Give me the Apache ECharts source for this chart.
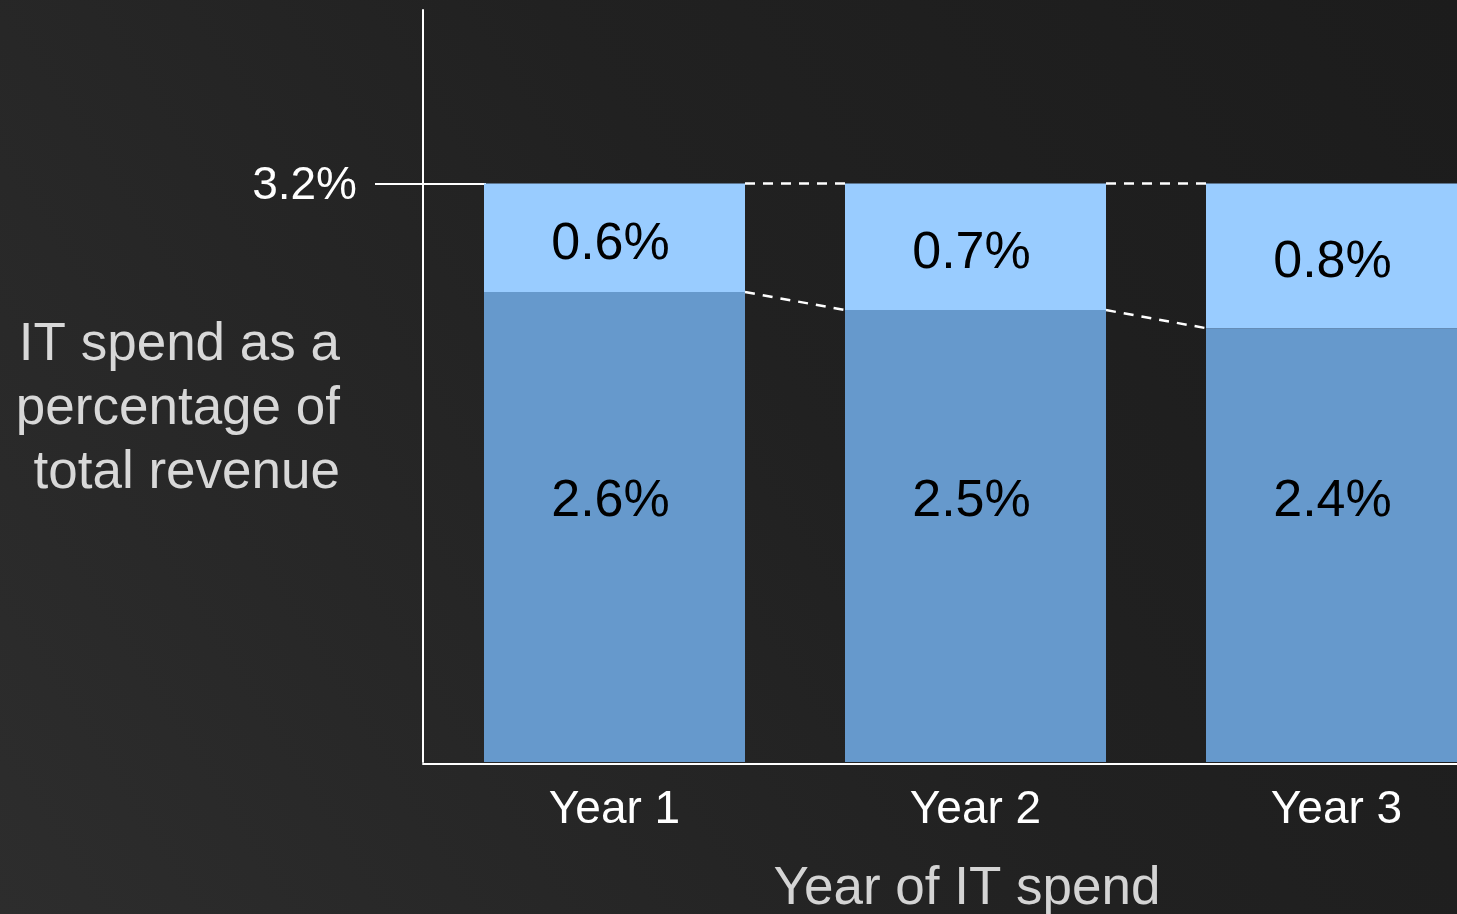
<!DOCTYPE html>
<html>
<head>
<meta charset="utf-8">
<style>
  html, body { margin: 0; padding: 0; background: #222; }
  #chart { width: 1457px; height: 914px; }
</style>
<script src="https://cdn.jsdelivr.net/npm/echarts@6/dist/echarts.min.js"></script>
</head>
<body>
<div id="chart"></div>
<script>
// ---- data ----
const categories = ['Year 1', 'Year 2', 'Year 3'];
const baseShare = [2.6, 2.5, 2.4];    // lower (dark) segment, % of revenue
const extraShare = [0.6, 0.7, 0.8];   // upper (light) segment, % of revenue
const yTickValues = [3.2];
const yAxisName = 'IT spend as a\npercentage of\ntotal revenue';
const xAxisName = 'Year of IT spend';

// ---- style constants ----
const FONT = 'Liberation Sans, Arial, Helvetica, sans-serif';
const BAR_W = 261;
const Y_MAX = 4.16;

const connectorData = categories.slice(0, -1).map((_, i) => [
  i,
  baseShare[i] + extraShare[i], baseShare[i],
  baseShare[i + 1] + extraShare[i + 1], baseShare[i + 1]
]);

const pct = p => Number(Array.isArray(p.value) ? p.value[1] : p.value).toFixed(1) + '%';

const chart = echarts.init(document.getElementById('chart'), null, { renderer: 'canvas' });
chart.setOption({
  animation: false,
  backgroundColor: {
    type: 'linear', x: 1, y: 0, x2: 0, y2: 1,
    colorStops: [
      { offset: 0, color: '#1c1c1c' },
      { offset: 0.45, color: '#212121' },
      { offset: 1, color: '#2d2d2d' }
    ]
  },
  grid: [
    // plotting grid for the bars (extends past the right edge)
    { left: 434, right: -60, top: 10, bottom: 152, containLabel: false, outerBoundsMode: 'none' },
    // frame grid carrying the visible axis lines
    { left: 423, right: 0, top: 10, bottom: 152, containLabel: false, outerBoundsMode: 'none' }
  ],
  xAxis: [{
    gridIndex: 0, type: 'category', data: categories, boundaryGap: true,
    axisLine: { show: false }, axisTick: { show: false }, splitLine: { show: false },
    axisLabel: { color: '#ffffff', fontFamily: FONT, fontSize: 46, margin: 25 },
    name: xAxisName, nameLocation: 'middle', nameGap: 101, nameMoveOverlap: false,
    nameTextStyle: { color: '#d4d4d4', fontFamily: FONT, fontSize: 53, padding: [0, 17, 0, 0] }
  }, {
    gridIndex: 1, type: 'value', min: 0, max: 1, offset: 2,
    axisLine: { show: true, onZero: false, lineStyle: { color: '#ffffff', width: 2 } },
    axisTick: { show: false }, axisLabel: { show: false }, splitLine: { show: false }
  }],
  yAxis: [{
    gridIndex: 0, type: 'value', min: 0, max: Y_MAX, show: false
  }, {
    gridIndex: 1, type: 'value', min: 0, max: Y_MAX,
    axisLine: { show: true, onZero: false, lineStyle: { color: '#ffffff', width: 2 } },
    axisTick: { show: true, customValues: yTickValues, inside: false, length: 48, lineStyle: { color: '#ffffff', width: 2 } },
    splitLine: { show: false },
    axisLabel: {
      customValues: yTickValues,
      formatter: v => '{v|' + v.toFixed(1) + '%}',
      color: '#ffffff', fontFamily: FONT, fontSize: 46, margin: 66,
      rich: { v: { color: '#ffffff', fontFamily: FONT, fontSize: 46, padding: [6, 0, 0, 0] } }
    },
    name: '{pad|}\n' + yAxisName, nameLocation: 'middle', nameRotate: 0, nameGap: 83, nameMoveOverlap: false,
    nameTextStyle: {
      color: '#d8d8d8', fontFamily: FONT, fontSize: 53, lineHeight: 64, align: 'right',
      rich: { pad: { lineHeight: 46, fontSize: 10 } }
    }
  }, {
    gridIndex: 1, type: 'value', min: 0, max: Y_MAX, position: 'left',
    axisLine: { show: false, onZero: false },
    axisTick: { show: true, customValues: yTickValues, inside: true, length: 63, lineStyle: { color: '#ffffff', width: 2 } },
    axisLabel: { show: false },
    splitLine: { show: false }
  }],
  series: [{
    type: 'bar', xAxisIndex: 0, yAxisIndex: 0, stack: 'it', data: baseShare, barWidth: BAR_W,
    itemStyle: { color: '#6699cc' },
    label: { show: true, position: 'insideBottom', distance: 234, offset: [-4, 0], formatter: pct, color: '#000000', fontFamily: FONT, fontSize: 52 }
  }, {
    type: 'bar', xAxisIndex: 0, yAxisIndex: 0, stack: 'it', data: extraShare, barWidth: BAR_W,
    itemStyle: { color: '#99ccff' },
    label: { show: true, position: 'inside', offset: [-4, 7], formatter: pct, color: '#000000', fontFamily: FONT, fontSize: 52 }
  }, {
    type: 'custom', xAxisIndex: 0, yAxisIndex: 0, data: connectorData, z: 5,
    encode: { x: 0, y: 1 },
    renderItem: (params, api) => {
      const i = api.value(0);
      const h = BAR_W / 2;
      const t0 = api.coord([i, api.value(1)]);
      const b0 = api.coord([i, api.value(2)]);
      const t1 = api.coord([i + 1, api.value(3)]);
      const b1 = api.coord([i + 1, api.value(4)]);
      const st = { stroke: '#ffffff', lineWidth: 2.5, lineDash: [10, 8] };
      return {
        type: 'group', children: [
          { type: 'line', shape: { x1: t0[0] + h, y1: t0[1], x2: t1[0] - h, y2: t1[1] }, style: st },
          { type: 'line', shape: { x1: b0[0] + h, y1: b0[1], x2: b1[0] - h, y2: b1[1] }, style: st }
        ]
      };
    }
  }]
});
</script>
</body>
</html>
